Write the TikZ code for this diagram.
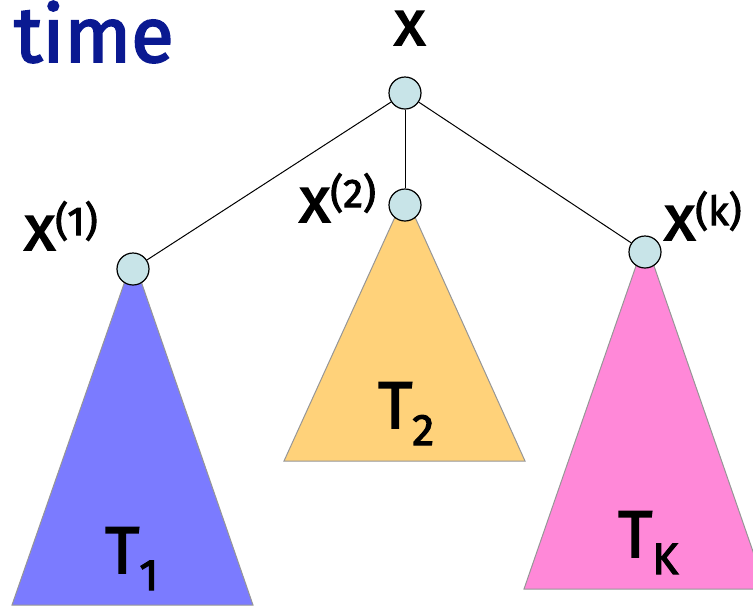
\documentclass[tikz,border=0pt]{standalone}
\usepackage{fontspec}
\setmainfont{Fira Sans}
\newfontfamily\heavy{Fira Sans}[FakeBold=2.5]
\definecolor{nodefill}{RGB}{200,228,232}
\definecolor{tone}{RGB}{123,123,255}
\definecolor{ttwo}{RGB}{255,210,122}
\definecolor{tk}{RGB}{255,136,216}
\definecolor{tedge}{RGB}{150,150,150}
\definecolor{timeblue}{RGB}{10,25,145}
\newcommand{\bigx}{{\fontsize{64}{64}\heavy x}}
\newcommand{\supr}[1]{\raisebox{15pt}{\fontsize{40}{40}\heavy(#1)}}
\newcommand{\tsub}[1]{{\fontsize{66}{66}\heavy T}\raisebox{-17pt}{\fontsize{44}{44}\heavy #1}}
\begin{document}
\begin{tikzpicture}[x=1pt,y=-1pt,
  vnode/.style={circle,draw=black,fill=nodefill,line width=1.2pt,minimum size=32pt,inner sep=0pt},
  tri/.style={draw=tedge,line width=1pt},
  edge/.style={draw=black,line width=1pt},
  lbl/.style={inner sep=0pt,anchor=base west}]
\useasboundingbox (0,0) rectangle (753,606);
\begin{scope}
\clip (0,0) rectangle (753,606);
\coordinate (a1) at (133,258);
\coordinate (a2) at (405,195);
\coordinate (ak) at (645,240);
\fill[tone] (a1) -- (12,605) -- (253,605) -- cycle;
\draw[tri] (a1) -- (12,605) -- (253,605) -- cycle;
\fill[ttwo] (a2) -- (284,461) -- (525,461) -- cycle;
\draw[tri] (a2) -- (284,461) -- (525,461) -- cycle;
\fill[tk] (ak) -- (524,589) -- (766,589) -- cycle;
\draw[tri] (ak) -- (524,589) -- (766,589) -- cycle;
\end{scope}
\node[vnode] (r) at (405,93) {};
\node[vnode] (n1) at (133,269) {};
\node[vnode] (n2) at (405,205) {};
\node[vnode] (nk) at (645,252) {};
\draw[edge] (r) -- (n1);
\draw[edge] (r) -- (n2);
\draw[edge] (r) -- (nk);
\node[lbl,text=timeblue] (time) at (14,62) {\fontsize{78}{78}\heavy time};
\node[lbl] (lx) at (394,45) {\bigx};
\node[lbl] (l1) at (24,250) {\bigx\supr{1}};
\node[lbl] (l2) at (299,222) {\bigx\supr{2}};
\node[lbl] (lk) at (664,240) {\bigx\supr{k}};
\node[lbl] (t1) at (105,573) {\tsub{1}};
\node[lbl] (t2) at (378,428) {\tsub{2}};
\node[lbl] (tkl) at (618,557) {\tsub{K}};
\end{tikzpicture}
\end{document}
